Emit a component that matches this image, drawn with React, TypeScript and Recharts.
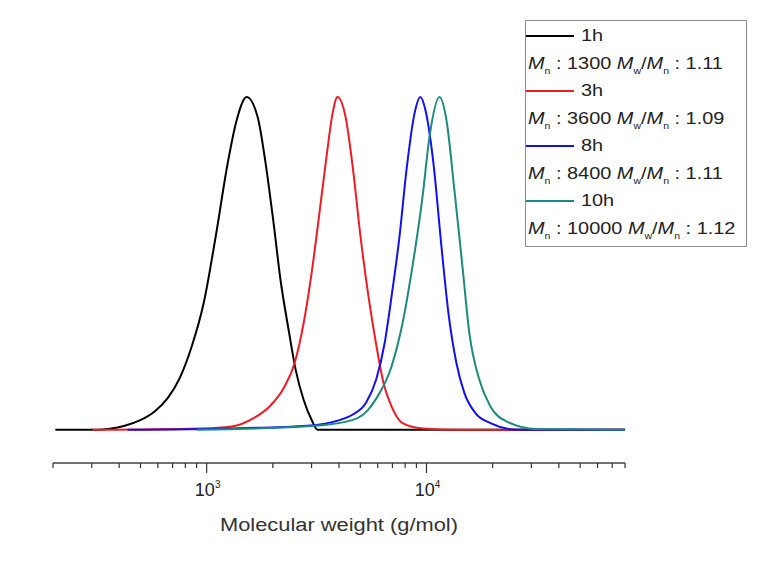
import { LineChart, Line, XAxis, YAxis, Legend, Label } from 'recharts'

// GPC traces, normalised detector signal vs molecular weight (g/mol)
const blackMw = [205, 320, 362, 424, 496, 580, 665, 754, 855, 969, 1099, 1246, 1369, 1520, 1706, 1855, 2017, 2168, 2360, 2541, 2761, 3001, 3198, 80000]
const blackSignal = [0, 0, 0.003, 0.012, 0.028, 0.055, 0.095, 0.155, 0.25, 0.38, 0.58, 0.8, 0.93, 1, 0.94, 0.8, 0.62, 0.45, 0.3, 0.18, 0.09, 0.03, 0, 0]

const redMw = [303, 939, 1299, 1636, 1933, 2263, 2512, 2761, 3001, 3228, 3509, 3738, 3936, 4285, 4657, 5012, 5449, 5926, 6379, 6934, 7782, 9594, 14290, 80000]
const redSignal = [0, 0.004, 0.01, 0.035, 0.07, 0.13, 0.2, 0.32, 0.47, 0.63, 0.82, 0.95, 1, 0.94, 0.77, 0.58, 0.4, 0.25, 0.14, 0.07, 0.02, 0.004, 0, 0]

const blueMw = [437, 1299, 2877, 3981, 4600, 5300, 5900, 6450, 6934, 7536, 8110, 8818, 9390, 9895, 10760, 11700, 12590, 13690, 14880, 16700, 19540, 25930, 80000]
const blueSignal = [0, 0.004, 0.012, 0.028, 0.045, 0.08, 0.15, 0.26, 0.4, 0.58, 0.78, 0.95, 1, 0.96, 0.8, 0.55, 0.35, 0.2, 0.11, 0.05, 0.02, 0, 0]

const tealMw = [901, 1933, 3509, 4857, 5400, 5926, 6934, 7782, 8630, 9594, 10320, 11460, 12330, 13400, 14580, 15670, 17400, 19540, 23120, 31620, 80000]
const tealSignal = [0, 0.005, 0.015, 0.035, 0.058, 0.095, 0.19, 0.32, 0.49, 0.7, 0.88, 1, 0.93, 0.72, 0.49, 0.29, 0.15, 0.07, 0.025, 0.002, 0]

const seriesNames = ['1h', '3h', '8h', '10h']
const mnValues = ['1300', '3600', '8400', '10000']
const pdiValues = ['1.11', '1.09', '1.11', '1.12']
const colors = ['#000000', '#ee1c25', '#1010f0', '#1d8a7e']

const xTicks = [200, 300, 400, 500, 600, 700, 800, 900, 1000, 2000, 3000, 4000, 5000, 6000, 7000, 8000, 9000, 10000, 20000, 30000, 40000, 50000, 60000, 70000, 80000]
const majorTicks: Record<number, string> = { 1000: '3', 10000: '4' }

const toRows = (mw: number[], sig: number[]) => mw.map((m, i) => ({ mw: m, signal: sig[i] }))

const series = [
  toRows(blackMw, blackSignal),
  toRows(redMw, redSignal),
  toRows(blueMw, blueSignal),
  toRows(tealMw, tealSignal),
]

const FONT = '"Liberation Sans", Arial, sans-serif'

function AxisTick(props: any) {
  const { x, y, payload } = props
  const exp = majorTicks[payload.value]
  return (
    <g>
      <line x1={x} x2={x} y1={y} y2={y + (exp ? 10 : 5)} stroke="#333" strokeWidth={1.2} />
      {exp && (
        <text x={x + 1} y={y + 33} textAnchor="middle" fontFamily={FONT} fontSize={18} fill="#222">
          10<tspan dy={-8} fontSize={10}>{exp}</tspan>
        </text>
      )}
    </g>
  )
}

function LegendBox() {
  const scaled = { display: 'inline-block', transform: 'scaleX(1.17)', transformOrigin: 'left center', whiteSpace: 'nowrap' as const }
  const sub = { fontSize: 9, verticalAlign: -5, lineHeight: 0 }
  return (
    <div style={{ width: 222, height: 227, boxSizing: 'border-box', border: '1px solid #8c8c8c', background: '#fff', paddingTop: 2, fontFamily: FONT, fontSize: 17, color: '#222' }}>
      {seriesNames.map((name, i) => (
        <div key={name}>
          <div style={{ height: 26, display: 'flex', alignItems: 'center' }}>
            <span style={{ width: 48, borderTop: `2.5px solid ${colors[i]}` }} />
            <span style={{ ...scaled, marginLeft: 7 }}>{name}</span>
          </div>
          <div style={{ height: 29, display: 'flex', alignItems: 'center', paddingLeft: 2 }}>
            <span style={scaled}>
              <i>M</i><span style={sub}>n</span> : {mnValues[i]} <i>M</i><span style={sub}>w</span>/<i>M</i><span style={sub}>n</span> : {pdiValues[i]}
            </span>
          </div>
        </div>
      ))}
    </div>
  )
}

export default function App() {
  return (
    <div style={{ position: 'absolute', left: 0, top: 0, background: '#fff' }}>
      <LineChart width={780} height={564} margin={{ top: 97, right: 155, left: 53, bottom: 41 }}>
        <XAxis
          type="number"
          dataKey="mw"
          scale="log"
          domain={[200, 80000]}
          ticks={xTicks}
          interval={0}
          allowDataOverflow
          height={60}
          tickSize={0}
          tickMargin={0}
          tickLine={false}
          axisLine={{ stroke: '#444', strokeWidth: 1.6 }}
          tick={<AxisTick />}
        >
          <Label
            content={(p: any) => {
              const vb = p.viewBox
              return (
                <text x={vb.x + vb.width / 2} y={vb.y + 68} textAnchor="middle" fontFamily={FONT} fontSize={18} fill="#333" textLength={238} lengthAdjust="spacingAndGlyphs">
                  Molecular weight (g/mol)
                </text>
              )
            }}
          />
        </XAxis>
        <YAxis hide domain={[-0.1, 1]} />
        <Legend layout="vertical" align="center" verticalAlign="middle" content={() => <LegendBox />} wrapperStyle={{ left: 525, top: 20, width: 222, height: 227 }} />
        {series.map((rows, i) => (
          <Line
            key={seriesNames[i]}
            data={rows}
            dataKey="signal"
            name={seriesNames[i]}
            type="monotone"
            stroke={colors[i]}
            strokeWidth={2}
            dot={false}
            isAnimationActive={false}
          />
        ))}
      </LineChart>
    </div>
  )
}
